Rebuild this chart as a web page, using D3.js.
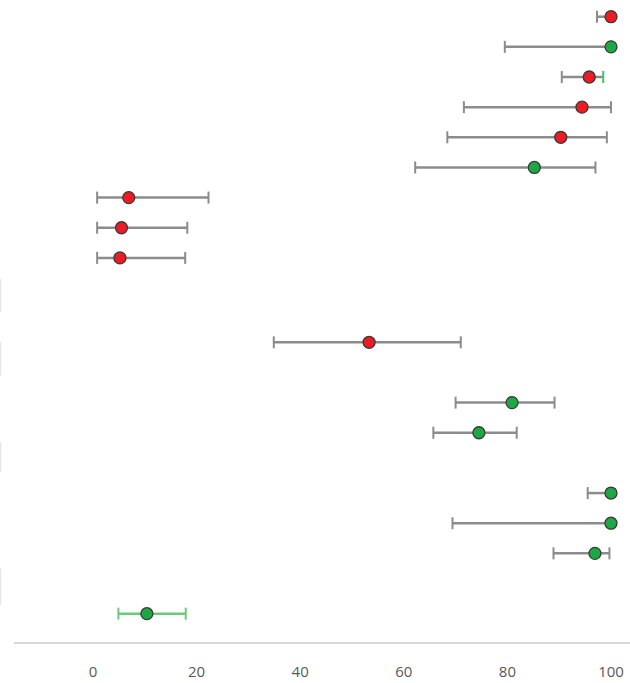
<!DOCTYPE html>
<meta charset="utf-8">
<style>
body { margin: 0; background: #fff; }
.tick-label {
  font-family: "Open Sans", sans-serif;
  font-size: 15px;
  fill: #595959;
}
</style>
<svg width="630" height="683"></svg>
<script src="https://d3js.org/d3.v7.min.js"></script>
<script>

// row position (in row units from top), estimate, lower and upper bounds
var rows   = [0, 1, 2, 3, 4, 5, 6, 7, 8, 10.8, 12.8, 13.8, 15.8, 16.8, 17.8, 19.8];
var values = [100, 100, 95.8, 94.4, 90.3, 85.2, 6.9, 5.5, 5.2, 53.3, 80.9, 74.5, 100, 100, 96.9, 10.4];
var lower  = [97.3, 79.5, 90.5, 71.6, 68.4, 62.2, 0.8, 0.8, 0.8, 34.9, 70.0, 65.7, 95.5, 69.4, 88.9, 4.9];
var upper  = [100, 100, 98.5, 100, 99.2, 97.0, 22.3, 18.2, 17.8, 71.0, 89.1, 81.8, 100, 100, 99.7, 17.9];
var groups = ["red", "green", "red", "red", "red", "green", "red", "red", "red", "red",
              "green", "green", "green", "green", "green", "green"];
var xTicks = [0, 20, 40, 60, 80, 100];

// cut-off label remnants on the left edge (row units)
var leftMarks = [[8.7, 9.8], [10.8, 11.9], [14.1, 15.1], [18.3, 19.5]];

var svg = d3.select("svg");

var x = d3.scaleLinear().domain([0, 100]).range([93, 611]);
var y = d3.scaleLinear().domain([0, 20]).range([16.7, 619.7]);

var color = { red: "#ec1c24", green: "#1ea845" };

var data = rows.map((r, i) => ({
  row: r, value: values[i], lo: lower[i], hi: upper[i], group: groups[i], last: i === rows.length - 1
}));

// x axis
var axis = svg.append("g").attr("transform", "translate(0,643)");
axis.append("line")
    .attr("x1", 14).attr("x2", 630)
    .attr("stroke", "#d9d9d9").attr("stroke-width", 2);
axis.selectAll("text")
  .data(xTicks)
  .join("text")
    .attr("class", "tick-label")
    .attr("x", d => x(d))
    .attr("y", 34)
    .attr("text-anchor", "middle")
    .text(d => d);

// left edge remnants
svg.selectAll(".left-mark")
  .data(leftMarks)
  .join("line")
    .attr("class", "left-mark")
    .attr("x1", 0.5).attr("x2", 0.5)
    .attr("y1", d => y(d[0])).attr("y2", d => y(d[1]))
    .attr("stroke", "#e6e6e6").attr("stroke-width", 1.5);

var row = svg.selectAll(".row")
  .data(data)
  .join("g")
    .attr("class", "row")
    .attr("transform", d => `translate(0,${y(d.row)})`);

var whisk = d => d.last ? "#6cc97a" : "#8c8c8c";

row.append("line")
    .attr("x1", d => x(d.lo)).attr("x2", d => x(d.hi))
    .attr("stroke", whisk).attr("stroke-width", 2.5);

row.append("line")
    .attr("x1", d => x(d.lo)).attr("x2", d => x(d.lo))
    .attr("y1", -6).attr("y2", 6)
    .attr("stroke", whisk).attr("stroke-width", 2);

row.append("line")
    .attr("x1", d => x(d.hi)).attr("x2", d => x(d.hi))
    .attr("y1", -6).attr("y2", 6)
    .attr("stroke", (d, i) => i === 2 ? "#4cc060" : whisk(d)).attr("stroke-width", 2);

row.append("circle")
    .attr("cx", d => x(d.value))
    .attr("r", 6)
    .attr("fill", d => color[d.group])
    .attr("stroke", "#3a3a3a")
    .attr("stroke-width", 1.3);

</script>
